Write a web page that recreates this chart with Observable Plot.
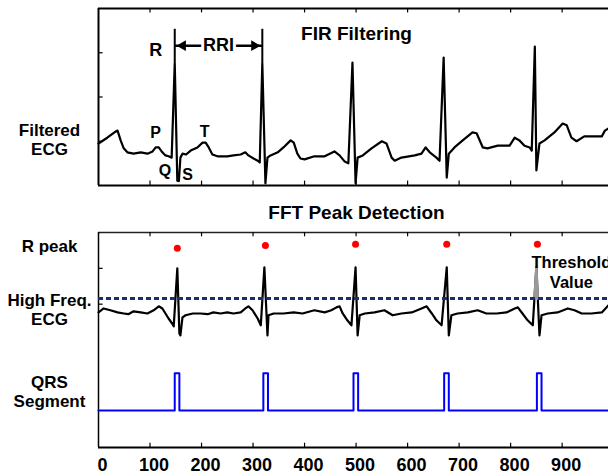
<!DOCTYPE html>
<html>
<head>
<meta charset="utf-8">
<script src="https://cdn.jsdelivr.net/npm/d3@7"></script>
<script src="https://cdn.jsdelivr.net/npm/@observablehq/plot@0.6"></script>
<style>
  body { margin: 0; background: #fff; }
  #chart { width: 608px; height: 476px; overflow: hidden; position: relative; }
  #chart svg { display: block; }
</style>
</head>
<body>
<div id="chart"></div>
<script>
// ---------- data ----------
const xTickLabels = [0, 100, 200, 300, 400, 500, 600, 700, 800, 900];
const innerTicks = [100, 200, 300, 400, 500, 600, 700, 800, 900];
const topYTicks = [1, 2, 3];
const bottomYTicks = [4, 5];

// FIR filtered ECG (top panel)
const filtT = [0,17,33,37,43,49,56,68,82,95,105,111,117,124,130,136,142,148,153,156,159,163,170,179,192,202,208,214,221,231,250,262,276,285,291,301,309,313,318,324,328,334,348,359,373,379,386,392,400,419,439,458,468,478,485,493,499,503,513,530,550,559,569,575,588,614,627,635,643,656,662,670,676,680,691,707,726,734,746,755,775,798,808,817,827,837,841,847,850,856,866,885,901,909,918,928,943,977,983,990];
const filtV = [0.95,1.08,1.22,1.24,1.02,0.84,0.75,0.72,0.75,0.72,0.77,0.86,0.86,0.75,0.68,0.66,0.63,2.76,0.11,0.10,0.63,0.72,0.70,0.79,0.86,0.97,0.97,0.86,0.70,0.66,0.66,0.68,0.70,0.75,0.68,0.61,0.56,0.52,2.76,0.05,0.63,0.68,0.75,0.86,1.02,0.97,0.72,0.61,0.59,0.66,0.66,0.77,0.68,0.54,0.50,2.78,0.05,0.63,0.68,0.84,1.0,0.95,0.63,0.56,0.63,0.68,0.72,0.86,0.75,0.63,0.56,2.89,0.18,0.72,0.86,1.02,1.20,1.18,0.86,0.84,0.90,0.90,1.08,1.02,0.90,0.86,0.79,3.14,0.34,0.95,1.02,1.20,1.40,1.36,1.08,1.0,1.11,1.11,1.24,1.29];

// High frequency ECG (bottom panel)
const hfT = [0,10,23,37,49,58,68,82,95,107,117,124,130,136,144,146,153,157,159,163,169,183,198,212,223,237,250,262,276,285,291,299,309,315,322,328,330,340,359,379,396,419,439,452,462,468,474,483,491,499,503,507,517,536,555,571,588,608,627,637,647,656,666,676,680,685,697,717,736,753,773,792,808,814,823,833,843,850,856,860,872,891,911,924,938,957,977,986,990];
const hfV = [3.77,3.88,3.83,3.77,3.74,3.72,3.80,3.77,3.74,3.83,3.94,3.88,3.74,3.60,3.44,3.38,5.0,3.18,3.13,3.63,3.69,3.74,3.74,3.72,3.77,3.74,3.77,3.74,3.77,3.88,3.94,3.83,3.60,3.41,5.03,3.13,3.69,3.74,3.74,3.77,3.74,3.83,3.77,3.83,3.91,3.94,3.74,3.55,3.41,5.03,3.13,3.69,3.74,3.77,3.83,3.69,3.74,3.77,3.88,3.94,3.74,3.55,3.41,5.03,3.13,3.69,3.74,3.77,3.83,3.74,3.74,3.77,3.88,3.91,3.74,3.55,3.41,5.03,3.13,3.69,3.74,3.77,3.88,3.83,3.74,3.74,3.77,3.91,3.97];

// detected R peaks (red dots)
const rPeakT = [153, 324, 499, 676, 852];
const rPeakV = [5.56, 5.64, 5.67, 5.67, 5.67];

// R peaks in filtered ECG used for the RRI annotation
const rriT = [148, 318];
const rriV = [2.76, 2.76];
const rriTop = 3.53;
const rriY = 3.16;

const threshold = 4.16;
const highlightPeakT = 850;

// QRS segment pulses
const qrsStart = [148, 320, 495, 671, 851];
const qrsEnd = [157, 329, 504, 680, 860];
const qrsLow = 1.03, qrsHigh = 2.07;

// wave labels
const waveLabels = [
  {text: "P", t: 111, v: 1.18},
  {text: "T", t: 206, v: 1.22},
  {text: "Q", t: 129, v: 0.32},
  {text: "S", t: 173, v: 0.25}
];
const rLabel = [{text: "R", t: 111, v: 3.05}];
const topSideLabels = [{text: "Filtered\nECG", v: 1.05}];
const bottomSideLabels = [
  {text: "R peak", v: 5.61},
  {text: "High Freq.\nECG", v: 3.86},
  {text: "QRS\nSegment", v: 1.56}
];

// ---------- build tables ----------
const filtered = filtT.map((t, i) => ({t, v: filtV[i]}));
const hf = hfT.map((t, i) => ({t, v: hfV[i]}));
const rPeaks = rPeakT.map((t, i) => ({t, v: rPeakV[i]}));
const rri = rriT.map((t, i) => ({t, v: rriV[i]}));

const qrs = [{t: 0, v: qrsLow}];
qrsStart.forEach((s, i) => {
  qrs.push({t: s, v: qrsLow}, {t: s, v: qrsHigh}, {t: qrsEnd[i], v: qrsHigh}, {t: qrsEnd[i], v: qrsLow});
});
qrs.push({t: 990, v: qrsLow});

// portion of the last spike above threshold (grey)
const pk = hfT.indexOf(highlightPeakT);
function cross(a, b) {
  const f = (threshold - hfV[a]) / (hfV[b] - hfV[a]);
  return {t: hfT[a] + f * (hfT[b] - hfT[a]), v: threshold};
}
const highlight = [cross(pk - 1, pk), {t: hfT[pk], v: hfV[pk]}, cross(pk + 1, pk)];

const font = "'Liberation Sans', Arial, sans-serif";
const xDomain = [0, 990];

// ---------- top panel ----------
const topChart = Plot.plot({
  width: 608, height: 195,
  marginLeft: 98, marginRight: 0, marginTop: 8, marginBottom: 10,
  x: {domain: xDomain, axis: null},
  y: {domain: [0, 4], axis: null},
  style: {fontFamily: font, background: "white", color: "black", overflow: "visible"},
  marks: [
    Plot.ruleY([0, 4], {stroke: "#000", strokeWidth: 2}),
    Plot.ruleX([0], {stroke: "#000", strokeWidth: 2}),
    Plot.ruleX(innerTicks, {y1: 4, y2: 3.9, stroke: "#000", strokeWidth: 1.2}),
    Plot.ruleX(innerTicks, {y1: 0, y2: 0.1, stroke: "#000", strokeWidth: 1.2}),
    Plot.ruleY(topYTicks, {x1: 0, x2: 9, stroke: "#000", strokeWidth: 1.2}),
    Plot.line(filtered, {x: "t", y: "v", stroke: "#000", strokeWidth: 2.2, strokeLinejoin: "round"}),
    Plot.ruleX(rri, {x: "t", y1: "v", y2: rriTop, stroke: "#000", strokeWidth: 2}),
    Plot.link([0], {x1: rriT[0], x2: rriT[1], y1: rriY, y2: rriY, stroke: "#000", strokeWidth: 2.5}),
    Plot.dot([0], {x: rriT[0], y: rriY, symbol: "triangle", rotate: -90, r: 4, fill: "#000", stroke: "none", dx: 8}),
    Plot.dot([0], {x: rriT[1], y: rriY, symbol: "triangle", rotate: 90, r: 4, fill: "#000", stroke: "none", dx: -8}),
    Plot.text(["RRI"], {x: (rriT[0] + rriT[1]) / 2, y: rriY, fontSize: 18, fontWeight: "bold", fill: "#000", stroke: "white", strokeWidth: 6, paintOrder: "stroke"}),
    Plot.text(waveLabels, {x: "t", y: "v", text: "text", fontSize: 16, fontWeight: "bold", fill: "#000"}),
    Plot.text(rLabel, {x: "t", y: "v", text: "text", fontSize: 18, fontWeight: "bold", fill: "#000"}),
    Plot.text(["FIR Filtering"], {frameAnchor: "top", lineAnchor: "middle", dy: 25, dx: 3, fontSize: 19, fontWeight: "bold", fill: "#000"}),
    Plot.text(topSideLabels, {x: 0, y: "v", text: "text", dx: -49, fontSize: 17, fontWeight: "bold", lineHeight: 1.12, fill: "#000"})
  ]
});

// ---------- bottom panel ----------
const bottomChart = Plot.plot({
  width: 608, height: 281,
  marginLeft: 98, marginRight: 0, marginTop: 37, marginBottom: 29,
  x: {domain: xDomain, label: null},
  y: {domain: [0, 6], axis: null},
  style: {fontFamily: font, background: "white", color: "black", overflow: "visible"},
  marks: [
    Plot.ruleY([6], {stroke: "#222", strokeWidth: 1.5}),
    Plot.ruleY([0], {stroke: "#000", strokeWidth: 2}),
    Plot.ruleX([0], {stroke: "#000", strokeWidth: 1.5}),
    Plot.ruleX(innerTicks, {y1: 6, y2: 5.88, stroke: "#000", strokeWidth: 1.2}),
    Plot.ruleX(innerTicks, {y1: 0, y2: 0.12, stroke: "#000", strokeWidth: 1.2}),
    Plot.ruleY(bottomYTicks, {x1: 0, x2: 9, stroke: "#000", strokeWidth: 1.2}),
    Plot.line(hf, {x: "t", y: "v", stroke: "#000", strokeWidth: 2.2, strokeLinejoin: "round"}),
    Plot.line(highlight, {x: "t", y: "v", stroke: "#999", fill: "#999", strokeWidth: 2.5}),
    Plot.ruleY([threshold], {stroke: "#1c2c6c", strokeWidth: 3, strokeDasharray: "5,3"}),
    Plot.dot(rPeaks, {x: "t", y: "v", r: 3.5, fill: "#ff0000", stroke: "none"}),
    Plot.line(qrs, {x: "t", y: "v", stroke: "#0000ff", strokeWidth: 2}),
    Plot.axisX({anchor: "bottom", ticks: xTickLabels, tickSize: 0, tickPadding: 11, fontSize: 18, fontWeight: "bold", dx: 4, label: null, tickFormat: d => String(d)}),
    Plot.text(["FFT Peak Detection"], {frameAnchor: "top", lineAnchor: "middle", dy: -20, dx: 3, fontSize: 19, fontWeight: "bold", fill: "#000"}),
    Plot.text(["Threshold\nValue"], {x: 918, y: 4.91, fontSize: 16.5, fontWeight: "bold", lineHeight: 1.18, fill: "#000"}),
    Plot.text(bottomSideLabels, {x: 0, y: "v", text: "text", dx: -49, fontSize: 17, fontWeight: "bold", lineHeight: 1.1, fill: "#000"})
  ]
});

const chart = document.getElementById("chart");
chart.appendChild(topChart);
chart.appendChild(bottomChart);
</script>
</body>
</html>
